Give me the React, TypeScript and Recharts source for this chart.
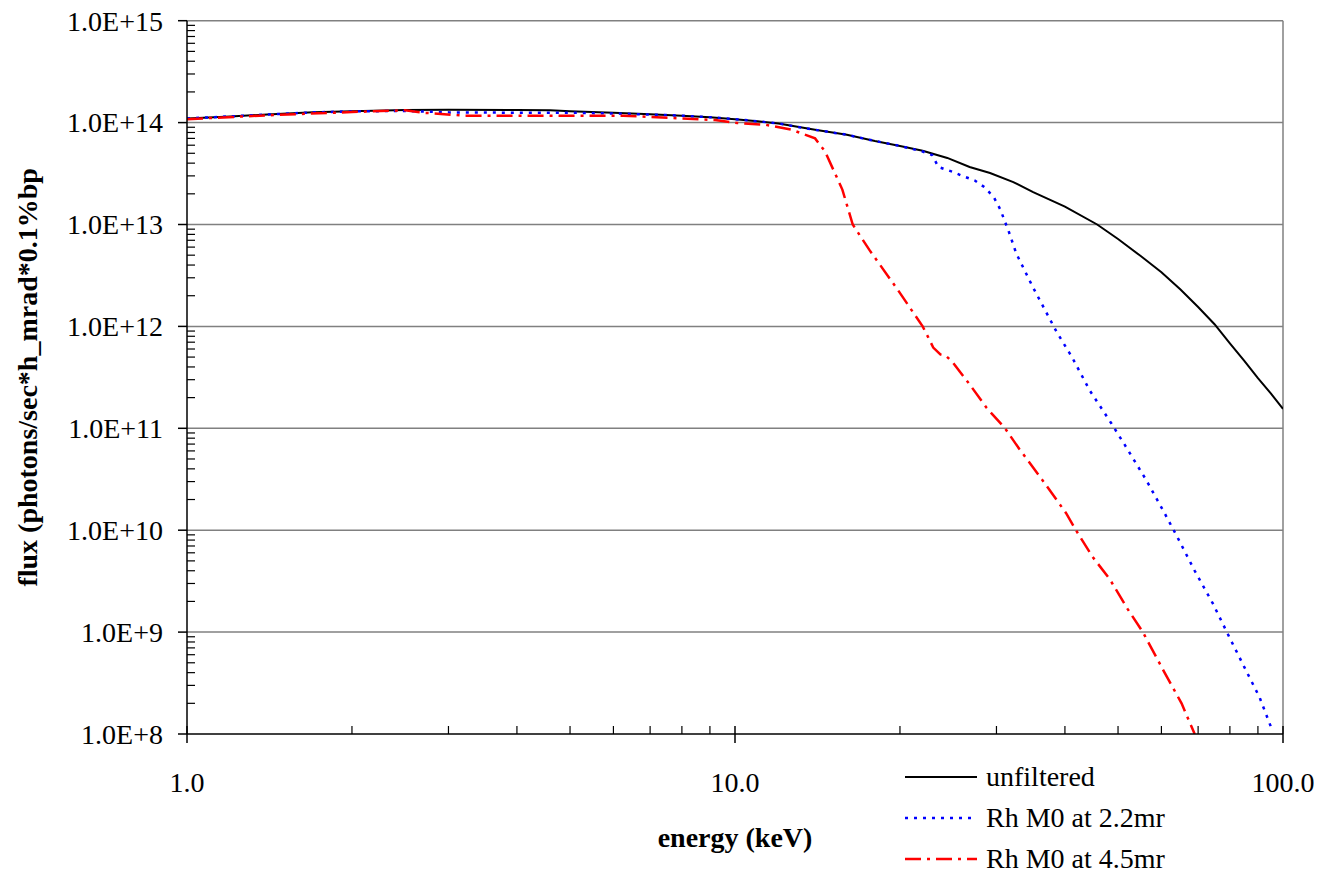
import {
  Legend,
  Line,
  LineChart,
  ReferenceLine,
  XAxis,
  YAxis,
} from "recharts";

// energy in keV, flux in photons/sec/h_mrad/0.1%bp
const unfilteredEnergy = [
  1.0, 1.2, 1.4, 1.7, 2.0, 2.5, 3.0, 4.0, 4.6, 5.0, 6.0, 7.0, 8.0, 9.0, 10, 11,
  12, 13, 14, 16, 18, 20, 22, 24.4, 26.8, 29.2, 32.2, 35, 40, 45.8, 50, 55, 60,
  65, 70, 75, 80, 85, 90, 95, 100,
];
const unfilteredFlux = [
  1.1e14, 1.15e14, 1.2e14, 1.26e14, 1.29e14, 1.33e14, 1.34e14, 1.33e14,
  1.32e14, 1.29e14, 1.25e14, 1.21e14, 1.17e14, 1.13e14, 1.08e14, 1.03e14,
  9.8e13, 9.1e13, 8.5e13, 7.6e13, 6.6e13, 5.9e13, 5.3e13, 4.5e13, 3.67e13,
  3.2e13, 2.61e13, 2.08e13, 1.5e13, 1.0e13, 7.2e12, 4.9e12, 3.4e12, 2.3e12,
  1.55e12, 1.05e12, 6.8e11, 4.6e11, 3.1e11, 2.2e11, 1.55e11,
];

const rh22Energy = [
  1.0, 1.2, 1.4, 1.7, 2.0, 2.5, 3.0, 4.0, 5.0, 6.0, 7.0, 8.0, 9.0, 10, 11, 12,
  13, 14, 16, 18, 20, 22, 22.9, 23.5, 24.9, 26.0, 27.4, 28.6, 29.7, 30.5, 31.1,
  31.6, 32.6, 35, 38.6, 41.2, 44.4, 48.6, 51.5, 56.3, 60.8, 64.2, 69, 74.5, 80,
  86, 90.6, 95.5,
];
const rh22Flux = [
  1.1e14, 1.15e14, 1.2e14, 1.26e14, 1.29e14, 1.3e14, 1.26e14, 1.25e14,
  1.25e14, 1.23e14, 1.2e14, 1.17e14, 1.13e14, 1.08e14, 1.03e14, 9.8e13,
  9.1e13, 8.5e13, 7.6e13, 6.6e13, 5.9e13, 5.2e13, 4.8e13, 3.67e13, 3.3e13,
  3.0e13, 2.7e13, 2.3e13, 1.83e13, 1.4e13, 1.06e13, 8.5e12, 5.2e12, 2.4e12,
  8.9e11, 5.0e11, 2.35e11, 1.12e11, 6.8e10, 3.1e10, 1.47e10, 8.5e9, 4.0e9,
  1.9e9, 8.7e8, 4.0e8, 2.3e8, 1.1e8,
];

const rh45Energy = [
  1.0, 1.4, 2.0, 2.5, 2.7, 3.2, 4.0, 5.0, 6.25, 7.9, 9.2, 10.1, 11.4, 12.7,
  14.0, 14.6, 15.7, 16.4, 17.6, 19.8, 22.0, 22.5, 23.0, 23.7, 24.3, 25, 26.8,
  28.8, 31.1, 33.0, 36.4, 40.2, 41.9, 44.9, 48.3, 52.0, 55.5, 60.8, 65.3, 69,
];
const rh45Flux = [
  1.08e14, 1.18e14, 1.27e14, 1.32e14, 1.25e14, 1.17e14, 1.17e14, 1.17e14,
  1.17e14, 1.1e14, 1.06e14, 9.9e13, 9.5e13, 8.5e13, 7.0e13, 5.2e13, 2.2e13,
  1.0e13, 5.6e12, 2.3e12, 1.0e12, 7.9e11, 6.2e11, 5.3e11, 5.1e11, 4.4e11,
  2.7e11, 1.58e11, 1.0e11, 6.3e10, 3.1e10, 1.47e10, 1.0e10, 5.5e9, 3.3e9,
  1.7e9, 1.0e9, 4.0e8, 2.0e8, 1.0e8,
];

const seriesNames = ["unfiltered", "Rh M0 at 2.2mr", "Rh M0 at 4.5mr"];

const decadeExponents = [8, 9, 10, 11, 12, 13, 14, 15];
const xDecadeExponents = [0, 1, 2];
const minorSteps = [2, 3, 4, 5, 6, 7, 8, 9];

const FONT = "'Liberation Serif', 'Times New Roman', Times, serif";
const GRID = "#808080";

const toPoints = (energy: number[], flux: number[]) =>
  energy.map((e, i) => ({ energy: e, flux: flux[i] }));

const unfiltered = toPoints(unfilteredEnergy, unfilteredFlux);
const rh22 = toPoints(rh22Energy, rh22Flux);
const rh45 = toPoints(rh45Energy, rh45Flux);

const yDecades = decadeExponents.map((p) => Math.pow(10, p));
const yTicks = [
  ...yDecades,
  ...decadeExponents
    .slice(0, -1)
    .flatMap((p) => minorSteps.map((m) => m * Math.pow(10, p))),
].sort((a, b) => a - b);

const xDecades = xDecadeExponents.map((p) => Math.pow(10, p));
const xTicks = [
  ...xDecades,
  ...xDecadeExponents
    .slice(0, -1)
    .flatMap((p) => minorSteps.map((m) => m * Math.pow(10, p))),
].sort((a, b) => a - b);

const isDecade = (v: number) =>
  Math.abs(Math.log10(v) - Math.round(Math.log10(v))) < 1e-6;

const lineStyles: Record<string, { color: string; dash?: string; width: number }> = {
  unfiltered: { color: "#000000", width: 2 },
  "Rh M0 at 2.2mr": { color: "#0000ff", dash: "3 6", width: 2.5 },
  "Rh M0 at 4.5mr": { color: "#ff0000", dash: "16 6 3 6", width: 2.5 },
};

const textStyle = { fontFamily: FONT, fontSize: 28 };

function YTick(props: any) {
  const { x, y, payload } = props;
  const v = payload.value as number;
  if (isDecade(v)) {
    return (
      <g>
        <line x1={x - 9} x2={x} y1={y} y2={y} stroke="#000" strokeWidth={1.5} />
        <text
          x={x - 24}
          y={y}
          dy="0.35em"
          textAnchor="end"
          fill="#000"
          style={textStyle}
        >
          {v.toExponential(1).toUpperCase()}
        </text>
      </g>
    );
  }
  return <line x1={x} x2={x + 8} y1={y} y2={y} stroke="#000" strokeWidth={1.2} />;
}

function XTick(props: any) {
  const { x, y, payload } = props;
  const v = payload.value as number;
  if (isDecade(v)) {
    return (
      <g>
        <line x1={x} x2={x} y1={y - 8} y2={y + 9} stroke="#000" strokeWidth={1.5} />
        <text
          x={x}
          y={y + 58}
          textAnchor="middle"
          fill="#000"
          style={textStyle}
        >
          {v.toFixed(1)}
        </text>
      </g>
    );
  }
  return <line x1={x} x2={x} y1={y - 8} y2={y} stroke="#000" strokeWidth={1.2} />;
}

function LegendBox(props: any) {
  const payload = [...((props.payload || []) as any[])].sort(
    (a, b) => seriesNames.indexOf(a.value) - seriesNames.indexOf(b.value)
  );
  return (
    <div style={{ fontFamily: FONT }}>
      {payload.map((entry) => {
        const st = lineStyles[entry.value] || { color: entry.color, width: 2 };
        return (
          <div
            key={entry.value}
            style={{ display: "flex", alignItems: "center", height: 41 }}
          >
            <svg width={72} height={10}>
              <line
                x1={0}
                x2={72}
                y1={5}
                y2={5}
                stroke={st.color}
                strokeWidth={st.width}
                strokeDasharray={st.dash}
              />
            </svg>
            <span
              style={{
                marginLeft: 9,
                fontFamily: FONT,
                fontSize: 28,
                lineHeight: "41px",
                color: "#000",
                whiteSpace: "nowrap",
              }}
            >
              {entry.value}
            </span>
          </div>
        );
      })}
    </div>
  );
}

export default function App() {
  // pull the chart to the page corner so the page edge is the chart edge
  return (
    <div
      style={{
        width: 1322,
        height: 882,
        margin: -8,
        background: "#fff",
        fontFamily: FONT,
      }}
    >
      <LineChart
        width={1322}
        height={882}
        margin={{ top: 20.7, right: 39, left: 0, bottom: 88 }}
      >
        <XAxis
          dataKey="energy"
          type="number"
          scale="log"
          domain={[1, 100]}
          ticks={xTicks}
          interval={0}
          allowDataOverflow
          tickLine={false}
          tickSize={0}
          tickMargin={0}
          tick={XTick}
          height={60}
          axisLine={{ stroke: "#000", strokeWidth: 1.5 }}
          label={{
            value: "energy (keV)",
            position: "bottom",
            offset: 33,
            fontFamily: FONT,
            fontSize: 28,
            fontWeight: "bold",
            fill: "#000",
          }}
        />
        <YAxis
          dataKey="flux"
          type="number"
          scale="log"
          domain={[1e8, 1e15]}
          ticks={yTicks}
          interval={0}
          allowDataOverflow
          tickLine={false}
          tickSize={0}
          tickMargin={0}
          tick={YTick}
          width={187}
          axisLine={{ stroke: "#000", strokeWidth: 1.5 }}
          label={{
            value: "flux (photons/sec*h_mrad*0.1%bp",
            angle: -90,
            position: "insideLeft",
            offset: 27,
            fontFamily: FONT,
            fontSize: 28,
            fontWeight: "bold",
            fill: "#000",
            style: { textAnchor: "middle" },
          }}
        />
        {yDecades.slice(1).map((v) => (
          <ReferenceLine key={v} y={v} stroke={GRID} strokeWidth={1.5} />
        ))}
        <ReferenceLine x={100} stroke={GRID} strokeWidth={1.5} />
        <Line
          data={unfiltered}
          dataKey="flux"
          name={seriesNames[0]}
          type="linear"
          stroke={lineStyles[seriesNames[0]].color}
          strokeWidth={lineStyles[seriesNames[0]].width}
          dot={false}
          activeDot={false}
          isAnimationActive={false}
        />
        <Line
          data={rh22}
          dataKey="flux"
          name={seriesNames[1]}
          type="linear"
          stroke={lineStyles[seriesNames[1]].color}
          strokeWidth={lineStyles[seriesNames[1]].width}
          strokeDasharray={lineStyles[seriesNames[1]].dash}
          dot={false}
          activeDot={false}
          isAnimationActive={false}
        />
        <Line
          data={rh45}
          dataKey="flux"
          name={seriesNames[2]}
          type="linear"
          stroke={lineStyles[seriesNames[2]].color}
          strokeWidth={lineStyles[seriesNames[2]].width}
          strokeDasharray={lineStyles[seriesNames[2]].dash}
          dot={false}
          activeDot={false}
          isAnimationActive={false}
        />
        <Legend
          layout="vertical"
          align="center"
          verticalAlign="middle"
          wrapperStyle={{ left: 905, top: 756, width: 320 }}
          content={LegendBox}
        />
      </LineChart>
    </div>
  );
}
